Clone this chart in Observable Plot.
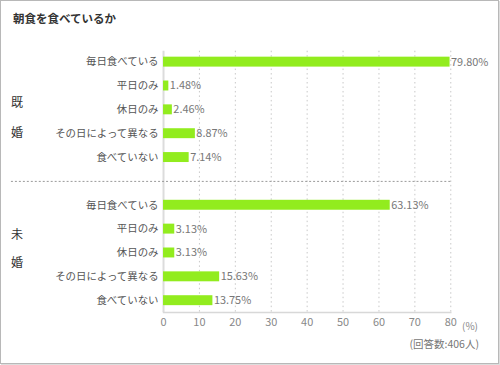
<!DOCTYPE html>
<html><head><meta charset="utf-8">
<script src="https://cdn.jsdelivr.net/npm/d3@7"></script>
<script src="https://cdn.jsdelivr.net/npm/@observablehq/plot@0.6"></script>
<style>
body{margin:0;background:#fff;font-family:"Noto Sans CJK JP","Noto Sans",sans-serif;}
#box{position:absolute;left:0;top:0;width:497px;height:362px;border:1px solid #b8b8b8;box-shadow:1px 1px 0 #ddd;overflow:hidden;}
#chart{position:absolute;left:0;top:0;}
.t{position:absolute;white-space:nowrap;}
#title{left:12px;top:9px;font-size:11.5px;font-weight:bold;color:#333;}
.g{font-size:12px;color:#333;}
#unit{left:461px;top:317px;font-size:10px;color:#888;}
#note{right:19px;top:335px;font-size:10.5px;color:#777;}
</style></head>
<body>
<div id="box">
<div id="chart"></div>
<div class="t" id="title">朝食を食べているか</div>
<div class="t g" style="left:10px;top:92px;">既</div>
<div class="t g" style="left:10px;top:122px;">婚</div>
<div class="t g" style="left:10px;top:224px;">未</div>
<div class="t g" style="left:10px;top:252px;">婚</div>
<div class="t" id="unit">(%)</div>
<div class="t" id="note">(回答数:406人)</div>
</div>
<script>
const categories = ["毎日食べている","平日のみ","休日のみ","その日によって異なる","食べていない"];
const groups = ["既婚","未婚"];
const marriedValues = [79.80,1.48,2.46,8.87,7.14];
const unmarriedValues = [63.13,3.13,3.13,15.63,13.75];
const xTicks = [0,10,20,30,40,50,60,70,80];

const rows = [];
categories.forEach((c,i)=>rows.push({key:groups[0]+"|"+c, cat:c, v:marriedValues[i]}));
categories.forEach((c,i)=>rows.push({key:groups[1]+"|"+c, cat:c, v:unmarriedValues[i]}));
const domain = [...categories.map(c=>groups[0]+"|"+c), "sep", ...categories.map(c=>groups[1]+"|"+c)];

const plot = Plot.plot({
  width: 500, height: 365,
  marginTop: 50, marginBottom: 52, marginLeft: 163, marginRight: 48,
  style: {fontFamily: '"Noto Sans CJK JP","Noto Sans",sans-serif', background: "transparent"},
  x: {domain: [0,80], ticks: xTicks, label: null},
  y: {domain, paddingInner: 0.58, paddingOuter: 0.25, label: null},
  marks: [
    Plot.ruleX(xTicks.slice(1), {stroke: "#c8c8c8", strokeDasharray: "1.5,3"}),
    Plot.ruleX([0], {stroke: "#dcdcdc", strokeWidth: 2}),
    Plot.frame({anchor: "bottom", stroke: "#d8d8d8", strokeWidth: 1.5}),
    Plot.ruleY(["sep"], {stroke: "#999", strokeDasharray: "2,2", insetLeft: -153}),
    Plot.barX(rows, {x: "v", y: "key", fill: "#92ec1e"}),
    Plot.text(rows, {x: "v", y: "key", text: d => d.v.toFixed(2) + "%", textAnchor: "start", dx: 1, fill: "#777", fontSize: 11}),
    Plot.axisY({tickSize: 0, tickPadding: 5, fontSize: 10.5, fill: "#555", tickFormat: d => d === "sep" ? "" : d.split("|")[1], label: null}),
    Plot.axisX({ticks: xTicks, tickSize: 0, tickPadding: 6, fontSize: 11, fill: "#888", label: null})
  ]
});
document.getElementById("chart").appendChild(plot);
</script>
</body></html>
